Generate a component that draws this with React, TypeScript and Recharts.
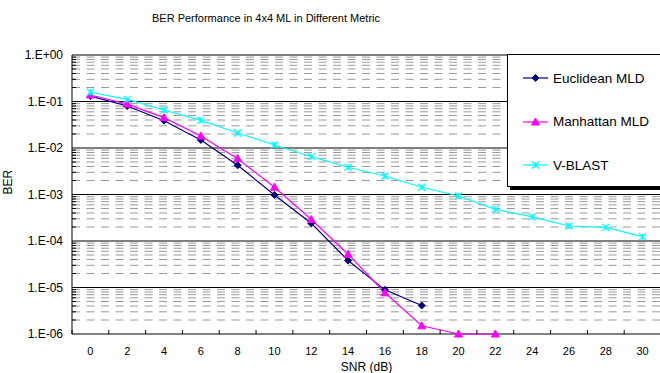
import { CartesianGrid, Legend, Line, LineChart, ReferenceLine, XAxis, YAxis } from "recharts";

const snr = [0, 2, 4, 6, 8, 10, 12, 14, 16, 18, 20, 22, 24, 26, 28, 30];
const euclidean = [0.131, 0.08, 0.0387, 0.0149, 0.00424, 0.00098, 0.00024, 0.000038, 0.0000089, 0.0000041];
const manhattan = [0.138, 0.088, 0.0449, 0.0181, 0.0059, 0.00143, 0.00029, 0.000052, 0.0000077, 0.0000015, 0.000001, 0.000001];
const vblast = [0.158, 0.111, 0.0656, 0.0394, 0.021, 0.0116, 0.0065, 0.00385, 0.0025, 0.00143, 0.00093, 0.00048, 0.00033, 0.00021, 0.000196, 0.000124];

const decades = [1, 0.1, 0.01, 0.001, 0.0001, 0.00001, 0.000001];
const decadeLabels = ["1.E+00", "1.E-01", "1.E-02", "1.E-03", "1.E-04", "1.E-05", "1.E-06"];
const minorSteps = [2, 3, 4, 5, 6, 7, 8, 9];
const minors = decades.slice(1).flatMap((d) => minorSteps.map((m) => d * m));
const xTicks = Array.from({ length: 33 }, (_, i) => i - 1);

const series = [
  { key: "euclidean", name: "Euclidean MLD", color: "#000080", marker: "diamond" },
  { key: "manhattan", name: "Manhattan MLD", color: "#FF00FF", marker: "triangle" },
  { key: "vblast", name: "V-BLAST", color: "#00FFFF", marker: "cross" },
];

const data = snr.map((s, i) => ({
  snr: s,
  euclidean: euclidean[i] ?? null,
  manhattan: manhattan[i] ?? null,
  vblast: vblast[i] ?? null,
}));

const font = "'Liberation Sans', Arial, sans-serif";

function Marker({ cx, cy, color, marker }: any) {
  if (cx == null || cy == null || isNaN(cy)) return null;
  if (marker === "diamond")
    return <path d={`M${cx},${cy - 3.5}L${cx + 3.5},${cy}L${cx},${cy + 3.5}L${cx - 3.5},${cy}Z`} fill={color} stroke={color} />;
  if (marker === "triangle")
    return <path d={`M${cx},${cy - 4}L${cx + 4},${cy + 3}L${cx - 4},${cy + 3}Z`} fill={color} stroke={color} />;
  return (
    <path
      d={`M${cx - 3.5},${cy - 3.5}L${cx + 3.5},${cy + 3.5}M${cx - 3.5},${cy + 3.5}L${cx + 3.5},${cy - 3.5}M${cx},${cy - 3}L${cx},${cy + 3}`}
      stroke={color}
      strokeWidth={1.2}
      fill="none"
    />
  );
}

function XTick({ x, y, payload }: any) {
  const v = payload.value;
  if (v % 2 !== 0) return <line x1={x} x2={x} y1={y} y2={y - 4} stroke="#000" />;
  return (
    <text x={x} y={y + 21} textAnchor="middle" fontSize={11} fontFamily={font} fill="#000">
      {v}
    </text>
  );
}

function YTick({ x, y, payload }: any) {
  const idx = decades.findIndex((d) => Math.abs(d - payload.value) / d < 1e-6);
  if (idx < 0) return <line x1={x} x2={x + 4} y1={y} y2={y} stroke="#000" />;
  return (
    <text x={x - 9} y={y + 4} textAnchor="end" fontSize={12} fontFamily={font} fill="#000">
      {decadeLabels[idx]}
    </text>
  );
}

function LegendBox() {
  return (
    <div
      style={{
        width: 170,
        height: 131,
        border: "1px solid #000",
        boxShadow: "3px 3px 0 #000",
        background: "#fff",
        fontFamily: font,
        fontSize: 13.5,
        position: "relative",
      }}
    >
      {series.map((s, i) => (
        <div key={s.key} style={{ position: "absolute", left: 15, top: 14 + i * 43.5, height: 18, display: "flex", alignItems: "center" }}>
          <svg width={26} height={18}>
            <line x1={0} x2={25} y1={9} y2={9} stroke={s.color} strokeWidth={1.2} />
            <Marker cx={12.5} cy={9} color={s.color} marker={s.marker} />
          </svg>
          <span style={{ marginLeft: 4, color: "#000" }}>{s.name}</span>
        </div>
      ))}
    </div>
  );
}

export default function App() {
  return (
    <div style={{ position: "absolute", left: 0, top: 0, width: 660, height: 373, overflow: "hidden", background: "#fff" }}>
      <LineChart width={680} height={373} data={data} margin={{ top: 55, right: 19, bottom: 0, left: 0 }}>
        <text x={266} y={22} textAnchor="middle" fontSize={11} fontFamily={font} fill="#000">
          BER Performance in 4x4 ML in Different Metric
        </text>
        <CartesianGrid horizontal={false} vertical={false} />
        {minors.map((m) => (
          <ReferenceLine key={`mn-${m}`} y={m} stroke="#9a9a9a" strokeDasharray="8 6.5" />
        ))}
        {decades.map((d) => (
          <ReferenceLine key={`mj-${d}`} y={d} stroke="#000" />
        ))}
        <XAxis
          type="number"
          dataKey="snr"
          domain={[-1, 31]}
          ticks={xTicks}
          interval={0}
          tick={<XTick />}
          tickLine={false}
          tickSize={0}
          tickMargin={0}
          height={39}
          axisLine={false}
          label={{ value: "SNR (dB)", position: "insideBottom", offset: 2, fontSize: 12, fontFamily: font, fill: "#000" }}
        />
        <YAxis
          scale="log"
          domain={[0.000001, 1]}
          ticks={[...decades, ...minors]}
          interval={0}
          tick={<YTick />}
          tickLine={false}
          tickSize={0}
          tickMargin={0}
          width={72}
          axisLine={{ stroke: "#000" }}
          label={{ value: "BER", angle: -90, position: "insideLeft", offset: 8, fontSize: 12, fontFamily: font, fill: "#000" }}
        />
        {series.map((s) => (
          <Line
            key={s.key}
            dataKey={s.key}
            name={s.name}
            stroke={s.color}
            strokeWidth={1.2}
            isAnimationActive={false}
            dot={(p: any) => <Marker key={`${s.key}-${p.index}`} cx={p.cx} cy={p.cy} color={s.color} marker={s.marker} />}
            activeDot={false}
          />
        ))}
        <Legend
          layout="horizontal"
          verticalAlign="middle"
          align="center"
          content={() => <LegendBox />}
          wrapperStyle={{ position: "absolute", left: 507, top: 54, width: 175, height: 136 }}
        />
      </LineChart>
    </div>
  );
}
